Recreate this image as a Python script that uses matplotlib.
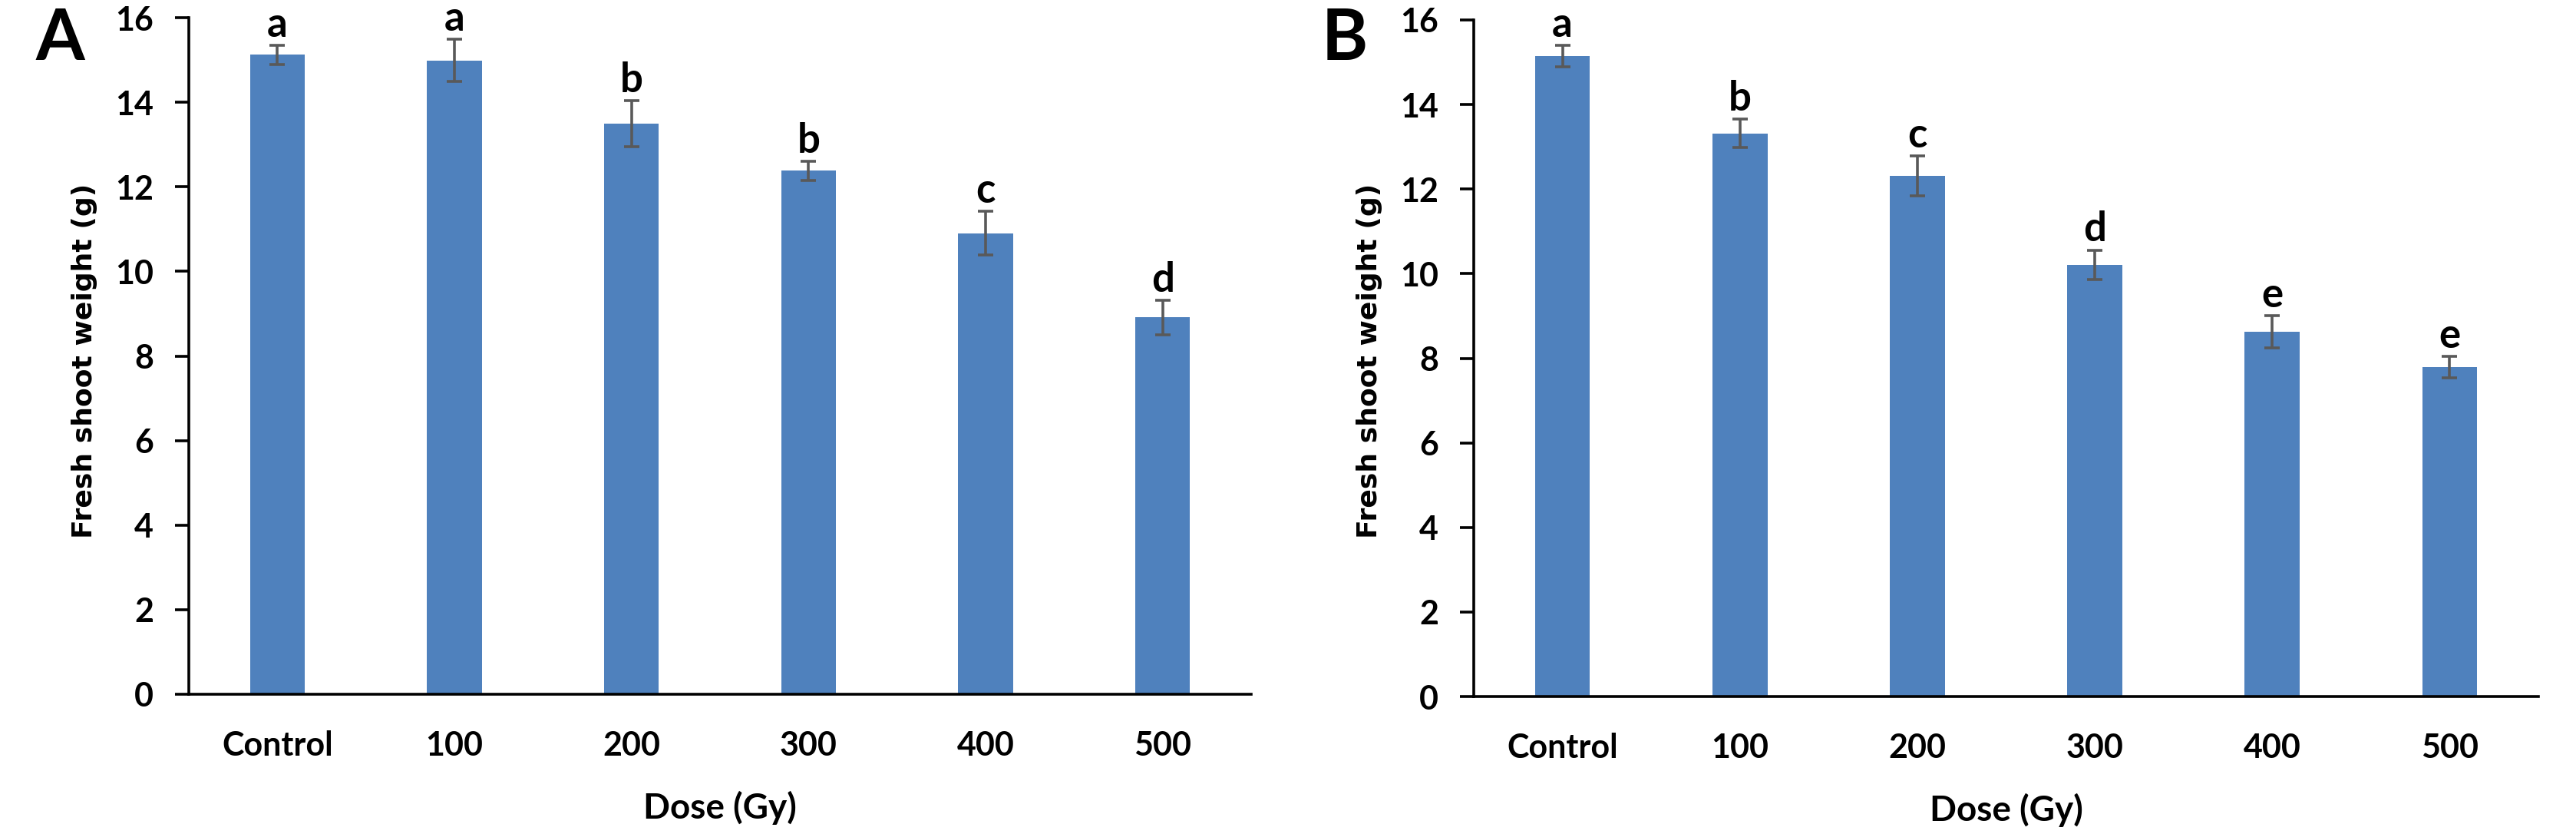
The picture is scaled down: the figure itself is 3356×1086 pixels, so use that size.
import matplotlib
matplotlib.use("Agg")
from matplotlib import pyplot as plt

# data
doses = ["Control", "100", "200", "300", "400", "500"]

weight_a = [15.12, 14.99, 13.49, 12.38, 10.90, 8.91]
err_a = [0.23, 0.50, 0.54, 0.23, 0.52, 0.41]
letters_a = ["a", "a", "b", "b", "c", "d"]

weight_b = [15.15, 13.32, 12.32, 10.21, 8.63, 7.79]
err_b = [0.25, 0.33, 0.47, 0.35, 0.38, 0.26]
letters_b = ["a", "b", "c", "d", "e", "e"]

bar_color = "#4F81BD"
err_color = "#595959"
main_font = "Lato"

W, H = 3356, 1086
fig = plt.figure(figsize=(W / 100, H / 100), dpi=100)


def px_rect(left, top, right, bottom):
    return [left / W, 1 - bottom / H, (right - left) / W, (bottom - top) / H]


def draw_panel(ax, values, errs, letters):
    x = list(range(len(doses)))
    ax.bar(x, values, width=0.31, color=bar_color, zorder=2)
    ax.errorbar(x, values, yerr=errs, fmt="none", ecolor=err_color,
                elinewidth=2.6, capsize=7, capthick=2.6, zorder=3)
    for xi, v, e, lab in zip(x, values, errs, letters):
        ax.annotate(lab, (xi, v + e), xytext=(0, 8), textcoords="offset points",
                    ha="center", va="baseline", fontsize=38,
                    fontweight="bold", family=main_font)

    ax.set_xlim(-0.5, len(doses) - 0.5)
    ax.set_ylim(0, 16)
    ax.set_yticks(range(0, 17, 2))
    ax.set_xticks(x)
    ax.set_xticklabels(doses)

    for side in ["top", "right"]:
        ax.spines[side].set_visible(False)
    for side in ["left", "bottom"]:
        ax.spines[side].set_linewidth(2.6)
        ax.spines[side].set_color("black")

    ax.tick_params(axis="y", length=13, width=2.6, pad=20, labelsize=31)
    ax.tick_params(axis="x", length=0, pad=34, labelsize=31)
    for t in ax.get_xticklabels() + ax.get_yticklabels():
        t.set_family(main_font)
        t.set_fontweight("bold")

    ax.set_xlabel("Dose (Gy)", fontsize=33, fontweight="bold",
                  family=main_font, labelpad=28)


ax_a = fig.add_axes(px_rect(246, 23, 1630, 904))
draw_panel(ax_a, weight_a, err_a, letters_a)

ax_b = fig.add_axes(px_rect(1920, 26, 3307, 907))
draw_panel(ax_b, weight_b, err_b, letters_b)

# y labels and panel letters
for x_lab, x_let, let in [(110, 78, "A"), (1784, 1752, "B")]:
    fig.text(x_lab / W, 1 - 470 / H, "Fresh shoot weight (g)", rotation=90,
             ha="center", va="center", fontsize=26, fontweight="bold",
             family="DejaVu Sans")
    fig.text(x_let / W, 1 - 52 / H, let, ha="center", va="center",
             fontsize=66, fontweight="bold", family=main_font)

fig.savefig("out.png", dpi=100, facecolor="white")
